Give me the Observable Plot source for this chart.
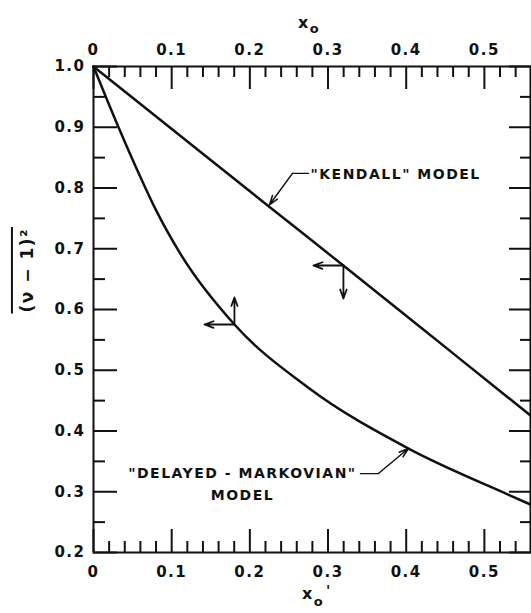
<!DOCTYPE html>
<html>
<head>
<meta charset="utf-8">
<script src="https://cdn.jsdelivr.net/npm/d3@7"></script>
<script src="https://cdn.jsdelivr.net/npm/@observablehq/plot@0.6"></script>
<style>
  html, body { margin: 0; padding: 0; background: #fff; }
</style>
</head>
<body>
<div id="chart"></div>
<script>
// Axis extents and ticks
const xDomain = [0, 0.559];
const yDomain = [0.2, 1.0];
const xMajor = [0, 0.1, 0.2, 0.3, 0.4, 0.5];
const xMinor = [0.02, 0.04, 0.06, 0.08, 0.12, 0.14, 0.16, 0.18, 0.22, 0.24, 0.26, 0.28,
                0.32, 0.34, 0.36, 0.38, 0.42, 0.44, 0.46, 0.48, 0.52, 0.54];
const yMajor = [0.2, 0.3, 0.4, 0.5, 0.6, 0.7, 0.8, 0.9, 1.0];
const yMinor = [0.25, 0.35, 0.45, 0.55, 0.65, 0.75, 0.85, 0.95];

// "Kendall" model curve
const kendallX = [0, 0.141, 0.224, 0.32, 0.452, 0.559];
const kendallY = [1.0, 0.855, 0.770, 0.672, 0.536, 0.4255];

// "Delayed-Markovian" model curve
const markovX = [0, 0.032, 0.06, 0.079, 0.111, 0.1803, 0.274, 0.403, 0.531, 0.559];
const markovY = [1.0, 0.9, 0.818, 0.766, 0.692, 0.5753, 0.472, 0.371, 0.295, 0.279];

// Points where each curve carries its pair of axis arrows
const kendallPoint = [0.3197, 0.6724];
const kendallArrowEnds = [0.2813, 0.618];   // left end (x), lower end (y)
const markovPoint = [0.1803, 0.5753];
const markovArrowEnds = [0.142, 0.6198];    // left end (x), upper end (y)

// Curve labels and their leaders
const kendallText = ['"KENDALL" MODEL'];
const kendallTextAt = [0.2775, 0.822];
const kendallLeader = [[0.275, 0.824], [0.2545, 0.824], [0.2249, 0.772]];
const markovText = ['"DELAYED - MARKOVIAN"', 'MODEL'];
const markovTextX = [0.1905, 0.1905];
const markovTextY = [0.330, 0.294];
const markovLeader = [[0.3414, 0.330], [0.3645, 0.330], [0.4028, 0.3712]];

const yLabelText = "(ν − 1)²";

const fmtX = d => d === 0 ? "0" : d3.format(".1f")(d);
const fmtY = d3.format(".1f");
const noText = () => "";
const ink = "#111";

const tickAxis = (fn, anchor, ticks, size) =>
  fn({anchor, ticks, tickSize: -size, strokeWidth: 2, stroke: ink, tickFormat: noText, label: null});

const chart = Plot.plot({
  width: 531,
  height: 613,
  marginTop: 66,
  marginBottom: 61,
  marginLeft: 93,
  marginRight: 1,
  style: {
    fontFamily: "'DejaVu Sans', sans-serif",
    fontSize: "15px",
    fontWeight: "bold",
    letterSpacing: "1.5px",
    color: ink,
    background: "#fff"
  },
  x: {domain: xDomain},
  y: {domain: yDomain},
  marks: [
    Plot.frame({stroke: ink, strokeWidth: 2}),

    // inward ticks on all four sides
    tickAxis(Plot.axisX, "bottom", xMajor, 23),
    tickAxis(Plot.axisX, "bottom", xMinor, 11),
    tickAxis(Plot.axisX, "top", xMajor, 22),
    tickAxis(Plot.axisX, "top", xMinor, 10),
    tickAxis(Plot.axisY, "left", yMajor, 24),
    tickAxis(Plot.axisY, "left", yMinor, 12),
    tickAxis(Plot.axisY, "right", yMajor, 22),
    tickAxis(Plot.axisY, "right", yMinor, 11),

    // tick labels
    Plot.axisX({anchor: "bottom", ticks: xMajor, tickSize: 0, tickPadding: 14, tickFormat: fmtX, label: null, fill: ink}),
    Plot.axisX({anchor: "top", ticks: xMajor, tickSize: 0, tickPadding: 12, tickFormat: fmtX, label: null, fill: ink}),
    Plot.axisY({anchor: "left", ticks: yMajor, tickSize: 0, tickPadding: 8, tickFormat: fmtY, label: null, fill: ink}),

    // axis titles: x_o on top, x_o' below, (ν−1)² on the left
    Plot.text(["x"], {frameAnchor: "top", dx: -8, dy: -50, fontSize: 16, fill: ink}),
    Plot.text(["o"], {frameAnchor: "top", dx: 3, dy: -43, fontSize: 13, fill: ink}),
    Plot.text(["x"], {frameAnchor: "bottom", dx: -4, dy: 46, fontSize: 16, fill: ink}),
    Plot.text(["o"], {frameAnchor: "bottom", dx: 7, dy: 53, fontSize: 13, fill: ink}),
    Plot.text(["'"], {frameAnchor: "bottom", dx: 17, dy: 42, fontSize: 14, fill: ink}),
    Plot.text([yLabelText], {frameAnchor: "left", rotate: -90, dx: -66, dy: 3, fontSize: 17, fill: ink}),

    // model curves
    Plot.line(kendallX, {x: kendallX, y: kendallY, stroke: ink, strokeWidth: 2.5, curve: "monotone-x"}),
    Plot.line(markovX, {x: markovX, y: markovY, stroke: ink, strokeWidth: 2.5, curve: "monotone-x"}),

    // axis-direction arrows on each curve
    Plot.arrow([0], {x1: kendallPoint[0], y1: kendallPoint[1], x2: kendallArrowEnds[0], y2: kendallPoint[1],
      stroke: ink, strokeWidth: 1.8, headLength: 8, headAngle: 40}),
    Plot.arrow([0], {x1: kendallPoint[0], y1: kendallPoint[1], x2: kendallPoint[0], y2: kendallArrowEnds[1],
      stroke: ink, strokeWidth: 1.8, headLength: 8, headAngle: 40}),
    Plot.arrow([0], {x1: markovPoint[0], y1: markovPoint[1], x2: markovArrowEnds[0], y2: markovPoint[1],
      stroke: ink, strokeWidth: 1.8, headLength: 8, headAngle: 40}),
    Plot.arrow([0], {x1: markovPoint[0], y1: markovPoint[1], x2: markovPoint[0], y2: markovArrowEnds[1],
      stroke: ink, strokeWidth: 1.8, headLength: 8, headAngle: 40}),

    // label leaders
    Plot.line(kendallLeader.slice(0, 2), {x: d => d[0], y: d => d[1], stroke: ink, strokeWidth: 1.3}),
    Plot.arrow([0], {x1: kendallLeader[1][0], y1: kendallLeader[1][1], x2: kendallLeader[2][0], y2: kendallLeader[2][1],
      stroke: ink, strokeWidth: 1.5, headLength: 10, headAngle: 35}),
    Plot.line(markovLeader.slice(0, 2), {x: d => d[0], y: d => d[1], stroke: ink, strokeWidth: 1.3}),
    Plot.arrow([0], {x1: markovLeader[1][0], y1: markovLeader[1][1], x2: markovLeader[2][0], y2: markovLeader[2][1],
      stroke: ink, strokeWidth: 1.5, headLength: 10, headAngle: 35}),

    // curve labels
    Plot.text(kendallText, {x: kendallTextAt[0], y: kendallTextAt[1], textAnchor: "start", fontSize: 14, letterSpacing: "1.6px", fill: ink}),
    Plot.text(markovText, {x: markovTextX, y: markovTextY, fontSize: 14, fill: ink})
  ]
});

document.getElementById("chart").append(chart);

// Overline across the rotated y-axis title
d3.select(chart).selectAll("text")
  .filter(function() { return this.textContent === yLabelText; })
  .each(function() {
    const box = this.getBBox();
    d3.select(this.parentNode).append("line")
      .attr("transform", this.getAttribute("transform"))
      .attr("x1", box.x - 1)
      .attr("x2", box.x + box.width + 1)
      .attr("y1", box.y - 5)
      .attr("y2", box.y - 5)
      .attr("stroke", ink)
      .attr("stroke-width", 2);
  });
</script>
</body>
</html>
